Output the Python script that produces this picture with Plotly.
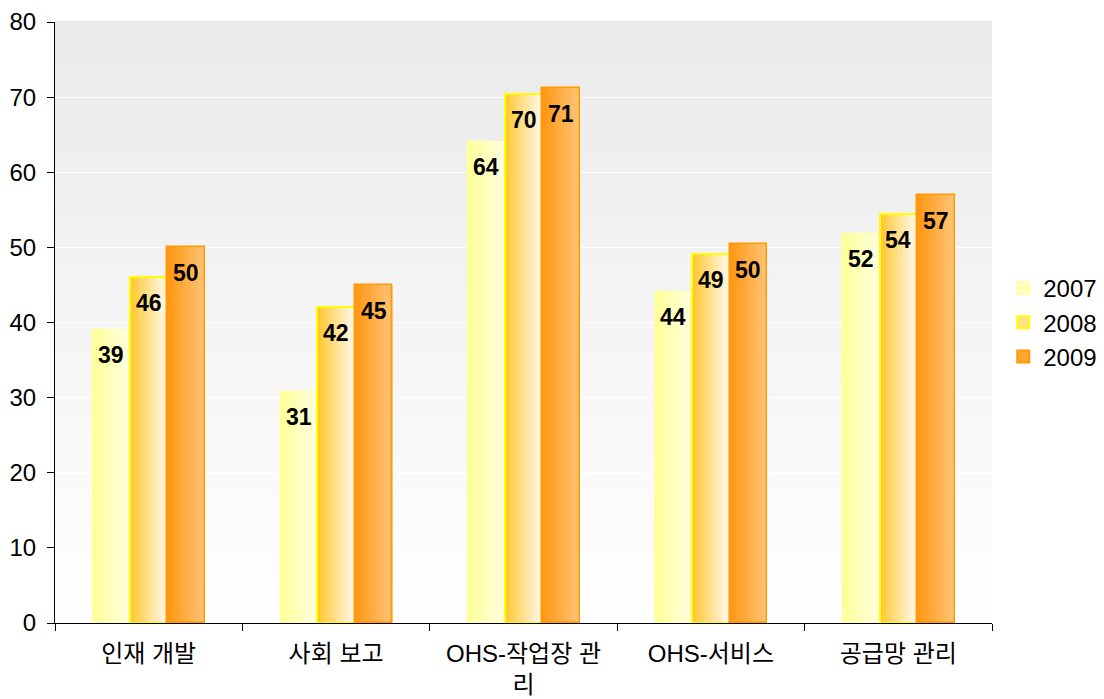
import plotly.graph_objects as go

categories = ["인재 개발", "사회 보고", "OHS-작업장 관<br>리", "OHS-서비스", "공급망 관리"]
years = ["2007", "2008", "2009"]
v2007 = [39.1, 30.9, 64.2, 44.2, 51.9]
v2008 = [46.0, 42.0, 70.4, 49.1, 54.5]
v2009 = [50.0, 45.0, 71.2, 50.5, 57.0]
y_ticks = [0, 10, 20, 30, 40, 50, 60, 70, 80]

series = [v2007, v2008, v2009]
grad_left = [(255, 255, 153), (255, 200, 50), (255, 152, 20)]
grad_right = [(255, 255, 222), (255, 248, 232), (255, 194, 115)]
borders = ["rgba(255,255,170,1)", "#FFFF00", "#FF9A00"]
border_w = [0.5, 2, 1.5]
legend_fill = ["#FFFFBB", "#FFE08A", "#FFA733"]
offsets = [-0.3, -0.1, 0.1]
bw = 0.2
N = 14

def mix(a, b, t):
    return "rgb(%d,%d,%d)" % tuple(round(a[i] + (b[i] - a[i]) * t) for i in range(3))

fig = go.Figure()
xs = list(range(len(categories)))
for s, vals in enumerate(series):
    for k in range(N):
        t = k / (N - 1)
        fig.add_trace(go.Bar(
            x=[i + offsets[s] + (k + 0.5) * bw / N for i in xs], y=vals,
            width=bw / N * 1.15, marker=dict(color=mix(grad_left[s], grad_right[s], t), line=dict(width=0)),
            showlegend=False, hoverinfo="skip"))
    fig.add_trace(go.Bar(
        x=[i + offsets[s] + bw / 2 for i in xs], y=vals, width=bw,
        marker=dict(color="rgba(0,0,0,0)", line=dict(color=borders[s], width=border_w[s])),
        showlegend=False, hoverinfo="skip"))
for s in range(3):
    fig.add_trace(go.Bar(x=[None], y=[None], name=years[s],
                         marker=dict(color=legend_fill[s], line=dict(color=borders[s], width=border_w[s] + 0.5))))

annotations = []
for s, vals in enumerate(series):
    for i, v in zip(xs, vals):
        annotations.append(dict(x=i + offsets[s] + bw / 2, y=v, xref="x", yref="y", text="%d" % round(v),
                                showarrow=False, yanchor="middle", yshift=-26,
                                font=dict(family="Liberation Sans, Arial", size=23, color="black", weight="bold")))

shapes = []
M = 60
for k in range(M):
    t = (k + 0.5) / M
    c = round(255 - (255 - 234) * t)
    shapes.append(dict(type="rect", xref="x domain", yref="y domain", x0=0, x1=1,
                       y0=k / M, y1=(k + 1) / M + 0.002, fillcolor="rgb(%d,%d,%d)" % (c, c, c),
                       line=dict(width=0), layer="below"))

fig.update_layout(
    width=1096, height=691,
    margin=dict(l=47, r=112, t=14, b=76, autoexpand=False),
    barmode="overlay", bargap=0,
    plot_bgcolor="white", paper_bgcolor="white",
    font=dict(family="Liberation Sans, Noto Sans CJK KR, Arial", size=24, color="black"),
    shapes=shapes, annotations=annotations,
    legend=dict(x=1.012, y=0.5, xanchor="left", yanchor="middle", font=dict(size=24),
                itemsizing="constant", tracegroupgap=0, bgcolor="rgba(0,0,0,0)", itemwidth=30),
    showlegend=True,
)
fig.update_xaxes(range=[-0.5, 4.5], tickvals=xs, ticktext=categories, ticks="", showgrid=False,
                 showline=True, linecolor="black", linewidth=1, zeroline=False,
                 tickfont=dict(family="Liberation Sans, Noto Sans CJK KR", size=24),
                 ticklabelstandoff=9, ticklabeloverflow="allow",
                 minor=dict(tick0=-0.5, dtick=1, ticks="outside", ticklen=7, tickcolor="black", showgrid=False))
fig.update_yaxes(range=[0, 80], tickvals=y_ticks, ticks="outside", ticklen=7, tickcolor="black",
                 showline=True, linecolor="black", linewidth=1, showgrid=True, gridcolor="white", gridwidth=1,
                 zeroline=False, tickfont=dict(size=24), ticklabelstandoff=6, ticklabeloverflow="allow")

fig.write_html("out.html")
